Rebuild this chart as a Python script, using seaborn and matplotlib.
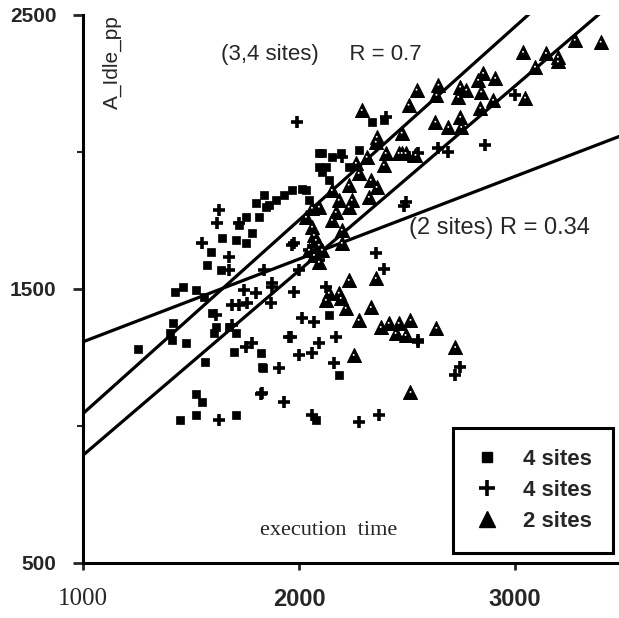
import matplotlib
matplotlib.use("Agg")
import matplotlib.pyplot as plt
import seaborn as sns
import pandas as pd
from matplotlib.lines import Line2D

# ---- data ----
sq_x = [1253, 1410, 1415, 1401, 1479, 1567, 1521, 1553, 1521, 1447, 1710, 1700, 1825, 1834,
        1617, 1608, 1677, 1710, 1599, 2078, 2184, 1829, 1645, 1594, 1576, 1640, 1461, 1525,
        1802, 1848, 1894, 1756, 1816, 1710, 1756, 1783, 1723, 1839, 1931, 1424, 1562,
        2014, 1968, 2092, 2092, 2106, 2193, 2276, 2336, 2138, 2230, 2046, 1862, 2392, 2138,
        2106, 2152, 2124, 2032]
sq_y = [1281, 1314, 1376, 1340, 1303, 1234, 1117, 1088, 1040, 1022, 1040, 1270, 1266, 1212,
        1361, 1340, 1361, 1340, 1412, 1022, 1186, 1215, 1686, 1635, 1588, 1570, 1507, 1496,
        1814, 1799, 1825, 1763, 1763, 1679, 1668, 1705, 1734, 1843, 1843, 1489, 1471,
        1865, 1861, 1996, 1945, 1927, 1996, 2007, 2110, 1898, 1945, 1825, 1807, 2117, 1405,
        1996, 1982, 1945, 1861]

pl_x = [1631, 1622, 1553, 1677, 1802, 1876, 1968, 1991, 1723, 1908, 1825, 1931, 1631, 1756,
        1783, 1691, 1617, 1691, 1760, 1871, 1954, 2000, 2060, 2092, 2170, 2161, 1829, 2060,
        2276, 2369, 2553, 2355, 2392, 2124, 1977, 1876, 1977, 2014, 2069, 1963, 2553, 2746,
        2723, 2861, 3000, 2691, 2645, 2507, 2553, 2493, 2484, 2401, 2198, 1677, 1746, 1839,
        1723, 2000, 2046, 2092]
pl_y = [1788, 1741, 1668, 1617, 1486, 1507, 1661, 2110, 1741, 1212, 1117, 1088, 1022, 1288,
        1303, 1369, 1405, 1442, 1449, 1449, 1325, 1259, 1266, 1303, 1325, 1230, 1121, 1040,
        1015, 1040, 1307, 1632, 1573, 1507, 1489, 1522, 1668, 1394, 1380, 1325, 1314, 1215,
        1186, 2026, 2209, 2001, 2015, 1982, 1996, 1818, 1803, 2128, 1982, 1570, 1497, 1570,
        1442, 1570, 1643, 1606]

tr_x = [3037, 3143, 3198, 3198, 3276, 3396, 2852, 2908, 2829, 2746, 2774, 2843, 2737, 2645,
        2636, 2544, 2507, 2475, 2631, 2691, 2746, 2751, 2839, 2898, 3046, 3092, 2493, 2539,
        2290, 2355, 2392, 2475, 2263, 2276, 2152, 2230, 2230, 2170, 2060, 2359, 2323,
        2360, 2401, 2313, 2461, 2332, 2184, 2244, 2092, 2060, 2032, 2078, 2152, 2198, 2106,
        2046, 2230, 2138, 2184, 2069, 2092, 2069, 2092, 2124, 2193, 2216, 2276, 2332, 2378,
        2415, 2461, 2516, 2447, 2493, 2198, 2636, 2723, 2516, 2253, 2355]
tr_y = [2365, 2361, 2347, 2330, 2409, 2402, 2288, 2270, 2263, 2238, 2227, 2220, 2201, 2245,
        2208, 2227, 2172, 2070, 2110, 2091, 2128, 2091, 2161, 2190, 2198, 2311, 1996, 1989,
        2153, 2037, 1953, 1996, 1960, 1923, 1861, 1880, 1800, 1781, 1796, 1872, 1836,
        2055, 1996, 1982, 1996, 1898, 1825, 1825, 1800, 1727, 1763, 1679, 1752, 1716, 1643,
        1643, 1533, 1486, 1486, 1697, 1661, 1624, 1599, 1460, 1467, 1431, 1387, 1434, 1361,
        1376, 1376, 1387, 1339, 1332, 1668, 1358, 1288, 1124, 1259, 1540]

# regression lines: two points read on each line
fit_2_x = [1000, 3481]
fit_2_y = [1307, 2056]
fit_34a_x = [1000, 3075]
fit_34a_y = [1045, 2510]
fit_34b_x = [1000, 3400]
fit_34b_y = [893, 2510]

group_labels = ["4 sites", "4 sites", "2 sites"]

# ---- plotting ----
sns.set_theme(style="white")
plt.rcParams['font.family'] = ['Liberation Sans', 'DejaVu Sans']

fig = plt.figure(figsize=(6.19, 6.18), dpi=100)
ax = fig.add_axes([0.134, 0.089, 0.866, 0.887])

df_sq = pd.DataFrame({"x": sq_x, "y": sq_y})
df_pl = pd.DataFrame({"x": pl_x, "y": pl_y})
df_tr = pd.DataFrame({"x": tr_x, "y": tr_y})

for fx, fy in [(fit_2_x, fit_2_y), (fit_34a_x, fit_34a_y), (fit_34b_x, fit_34b_y)]:
    sns.lineplot(x=fx, y=fy, ax=ax, color="black", linewidth=2.3, zorder=3)

sns.scatterplot(data=df_sq, x="x", y="y", ax=ax, marker="s", s=36, color="black",
                edgecolor="black", linewidth=0.5, zorder=4)
sns.scatterplot(data=df_pl, x="x", y="y", ax=ax, marker="+", s=85, color="black",
                linewidth=2.6, zorder=4)
sns.scatterplot(data=df_tr, x="x", y="y", ax=ax, marker="^", s=100, color="black",
                edgecolor="black", linewidth=0.8, zorder=4)
sns.scatterplot(data=df_tr, x="x", y="y", ax=ax, marker="o", s=2, color="white",
                edgecolor="none", zorder=5)

ax.set_xlim(1000, 3481)
ax.set_ylim(500, 2500)
ax.set_xlabel("")
ax.set_ylabel("")

for s in ["top", "right"]:
    ax.spines[s].set_visible(False)
for s in ["left", "bottom"]:
    ax.spines[s].set_linewidth(2.2)
    ax.spines[s].set_color("black")

ax.set_yticks([500, 1500, 2500])
ax.set_yticks([1000, 2000], minor=True)
ax.set_yticklabels(["500", "1500", "2500"])
ax.set_xticks([1000, 2000, 3000])
ax.set_xticklabels(["1000", "2000", "3000"])
ax.tick_params(axis="y", which="major", direction="out", length=7, width=2,
               left=True, pad=12, labelsize=15)
ax.tick_params(axis="y", which="minor", direction="out", length=4, width=1.5, left=True)
ax.tick_params(axis="x", which="major", direction="out", length=5, width=2,
               bottom=True, pad=13, labelsize=17)
for lbl in ax.get_yticklabels():
    lbl.set_fontweight("bold")
xl = ax.get_xticklabels()
xl[0].set_family(["Liberation Serif"])
xl[0].set_fontsize(18)
for lbl in xl[1:]:
    lbl.set_fontweight("bold")

ax.text(1640, 2354, "(3,4 sites)     R = 0.7", fontsize=16, ha="left", va="center")
ax.text(2507, 1723, "(2 sites) R = 0.34", fontsize=17, ha="left", va="center")
ax.text(1134, 2500, "A_Idle_pp", rotation=90, fontsize=15, ha="center", va="top")
ax.text(2138, 620, "execution  time", family=["Liberation Serif"], fontsize=16,
        ha="center", va="center")

handles = [
    Line2D([], [], marker="s", color="black", linestyle="none", markersize=7),
    Line2D([], [], marker="+", color="black", linestyle="none", markersize=11, markeredgewidth=2.6),
    Line2D([], [], marker="^", color="black", linestyle="none", markersize=11),
]
leg = ax.legend(handles, group_labels, loc="lower right", bbox_to_anchor=(0.988, 0.018),
                frameon=True, fancybox=False, edgecolor="black", framealpha=1,
                prop={"weight": "bold", "size": 16}, handletextpad=1.0,
                labelspacing=0.45, borderpad=0.95, handlelength=1.2, borderaxespad=0)
leg.get_frame().set_linewidth(2.2)
for t in leg.get_texts():
    t.set_ha("right")

fig.savefig("out.png", dpi=100)
